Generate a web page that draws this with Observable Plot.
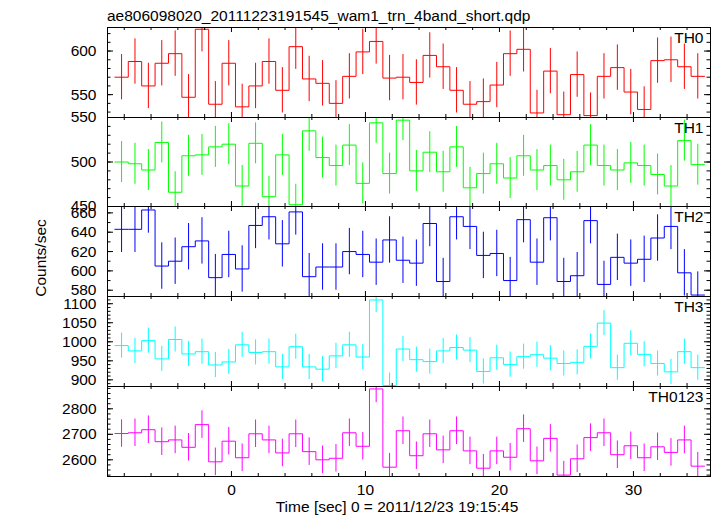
<!DOCTYPE html>
<html><head><meta charset="utf-8">
<script src="https://cdn.jsdelivr.net/npm/d3@7"></script>
<script src="https://cdn.jsdelivr.net/npm/@observablehq/plot@0.6"></script>
<style>
body{margin:0;background:#fff;}
#chart{position:relative;width:717px;height:516px;font-family:"Liberation Sans",Arial,sans-serif;color:#000;overflow:hidden;}
#chart svg{position:absolute;left:0;overflow:visible;}
.lbl{position:absolute;font-size:15.5px;line-height:1;white-space:nowrap;}
</style></head><body><div id="chart"></div>
<script>
// bin centres (s)
const time = [-8.2,-7.2,-6.2,-5.2,-4.2,-3.2,-2.2,-1.2,-0.2,0.8,1.8,2.8,3.8,4.8,5.8,6.8,7.8,8.8,9.8,10.8,11.8,12.8,13.8,14.8,15.8,16.8,17.8,18.8,19.8,20.8,21.8,22.8,23.8,24.8,25.8,26.8,27.8,28.8,29.8,30.8,31.8,32.8,33.8,34.8];
const th0 = [570,588,560,586,597,547,625,539,586,536,560,588,555,605,568,563,540,571,599,611,569,570,564,595,582,555,539,542,561,597,602,529,577,527,573,526,571,581,553,533,589,590,582,571];
const th1 = [500,498,491,522,466,507,508,517,520,473,521,461,508,452,535,505,496,519,476,544,487,547,490,511,489,517,471,487,498,482,507,491,496,480,489,519,496,491,499,496,486,473,524,497];
const th2 = [643,643,663,605,610,625,631,593,617,602,647,656,628,661,594,604,604,620,617,609,632,611,608,649,589,656,646,616,618,590,653,609,655,589,595,652,586,614,608,612,634,646,598,575];
const th3 = [990,976,1003,955,1006,968,974,939,947,992,972,974,934,987,934,928,963,992,960,1110,885,981,953,948,976,985,978,922,958,940,961,966,957,943,946,988,1049,932,996,967,943,921,974,932];
const th0123 = [2703,2706,2718,2671,2678,2649,2738,2592,2673,2608,2702,2678,2627,2702,2632,2600,2606,2706,2653,2878,2571,2714,2616,2702,2639,2714,2635,2567,2635,2610,2722,2596,2684,2540,2604,2687,2706,2620,2655,2608,2651,2629,2678,2575];
const errHalf = [26,23,24,33,54];
const panelNames = ["TH0","TH1","TH2","TH3","TH0123"];
const panelColors = ["#ff0000","#00ff00","#0000ff","#00ffff","#ff00ff"];
const yDomains = [[523.8,627],[450,550],[573.5,666.6],[882.5,1119],[2534.5,2887.5]];
const yLabelTicks = [[550,600],[450,500,550],[580,600,620,640,660],[900,950,1000,1050,1100],[2600,2700,2800]];
const yMinorStep = [10,10,10,10,20];
const xMajorTicks = [0,10,20,30];
const xMinorTicks = [-8,-6,-4,-2,2,4,6,8,12,14,16,18,22,24,26,28,32,34];
const xDomain = [-9.25,35.75];
const titleText = "ae806098020_20111223191545_wam1_trn_4band_short.qdp";
const xTitle = "Time [sec] 0 = 2011/12/23 19:15:45";
const yTitle = "Counts/sec";

const series = [th0, th1, th2, th3, th0123];
const tops = [27,117,206,296,386];
const heights = [90,89,90,90,90];
const W = 717, ML = 107, MR = 7, innerW = W - ML - MR;
const chart = document.getElementById("chart");
const FS = 15.5;
const plain = d => String(d);

series.forEach((vals, k) => {
  const ih = heights[k];
  const isLast = k === series.length - 1;
  const mb = isLast ? 30 : 0;
  const color = panelColors[k];
  const steps = vals.flatMap((v, i) => [{t: time[i] - 0.5, v}, {t: time[i] + 0.5, v}]);
  const bars = vals.map((v, i) => ({t: time[i], lo: v - errHalf[k], hi: v + errHalf[k]}));
  const [y0, y1] = yDomains[k];
  const st = yMinorStep[k];
  const minor = d3.range(Math.ceil(y0 / st) * st, y1, st);
  const marks = [
    Plot.ruleX(bars, {x: "t", y1: "lo", y2: "hi", stroke: color, strokeWidth: 1, clip: true}),
    Plot.line(steps, {x: "t", y: "v", stroke: color, strokeWidth: 1, clip: true}),
    Plot.tickX(xMinorTicks, {insetTop: ih - 3, stroke: "#000"}),
    Plot.tickX(xMinorTicks, {insetBottom: ih - 3, stroke: "#000"}),
    Plot.tickX(xMajorTicks, {insetTop: ih - 5, stroke: "#000"}),
    Plot.tickX(xMajorTicks, {insetBottom: ih - 5, stroke: "#000"}),
    Plot.tickY(minor, {insetRight: innerW - 3.5, stroke: "#000"}),
    Plot.tickY(minor, {insetLeft: innerW - 3.5, stroke: "#000"}),
    Plot.tickY(yLabelTicks[k], {insetRight: innerW - 6, stroke: "#000"}),
    Plot.tickY(yLabelTicks[k], {insetLeft: innerW - 6, stroke: "#000"}),
    Plot.frame({stroke: "#000"}),
    Plot.axisY(yLabelTicks[k], {tickSize: 0, tickPadding: 11, fontSize: FS, label: null, tickFormat: plain}),
    Plot.text([panelNames[k]], {frameAnchor: "top-right", dx: -7, dy: 4, lineAnchor: "top", fontSize: FS, text: d => d})
  ];
  if (isLast) marks.push(Plot.axisX(xMajorTicks, {tickSize: 0, tickPadding: 7, fontSize: FS, label: null, tickFormat: plain}));
  const svg = Plot.plot({
    width: W, height: ih + mb,
    marginLeft: ML, marginRight: MR, marginTop: 0, marginBottom: mb,
    x: {domain: xDomain, label: null, axis: isLast ? undefined : null},
    y: {domain: yDomains[k], label: null},
    style: {background: "transparent", overflow: "visible", fontFamily: "Liberation Sans, Arial, sans-serif", fontSize: FS + "px"},
    marks
  });
  svg.style.top = tops[k] + "px";
  chart.append(svg);
});

function addLabel(text, css) {
  const d = document.createElement("div");
  d.className = "lbl";
  d.textContent = text;
  Object.assign(d.style, css);
  chart.append(d);
}
addLabel(titleText, {left: "107px", top: "8px"});
addLabel(xTitle, {left: "397px", top: "499px", transform: "translateX(-50%)"});
addLabel(yTitle, {left: "41px", top: "258px", transform: "translate(-50%,-50%) rotate(-90deg)"});
</script></body></html>
